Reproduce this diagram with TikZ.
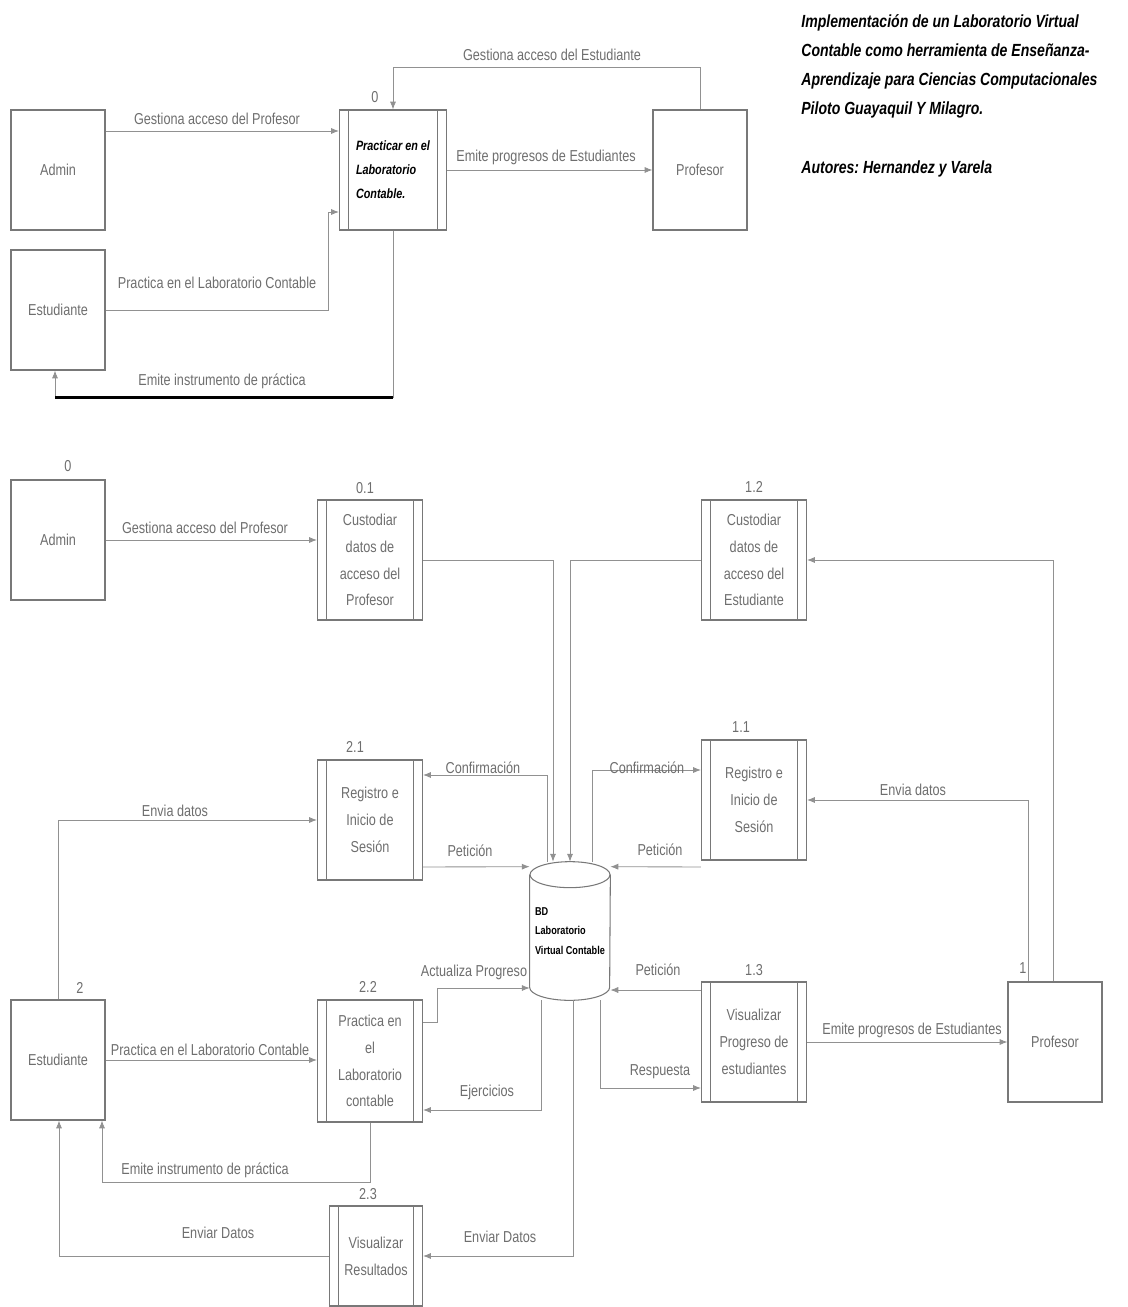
\documentclass[tikz,border=0pt]{standalone}
\usepackage{fontspec}
\setmainfont[FakeStretch=0.8]{Liberation Sans}
\usetikzlibrary{positioning,calc,arrows.meta}

\definecolor{boxgray}{RGB}{120,120,120}
\definecolor{linegray}{RGB}{145,145,145}
\definecolor{txtgray}{RGB}{110,110,110}

\begin{document}
\begin{tikzpicture}[
            x=0.02cm, y=-0.02cm,
            >={Latex[length=4.5pt,width=3.5pt]},
            every node/.style={font=\fontsize{9}{15.3}\selectfont,text=txtgray},
            entity/.style={draw=boxgray,line width=0.6pt,minimum width=1.88cm,minimum height=2.4cm,inner sep=0pt},
            process/.style={entity,minimum width=2.1cm,align=center,
                path picture={\draw[boxgray,line width=0.5pt]
                    ([xshift=0.18cm]path picture bounding box.north west) -- ([xshift=0.18cm]path picture bounding box.south west)
                    ([xshift=-0.18cm]path picture bounding box.north east) -- ([xshift=-0.18cm]path picture bounding box.south east);}},
            dbstore/.style={minimum width=1.6cm,minimum height=2.76cm,inner sep=0pt,align=left,
                font=\bfseries\fontsize{6.5}{11}\selectfont,text=black},
            flow/.style={draw=linegray,line width=0.5pt,->},
            lbl/.style={inner sep=1pt},
            num/.style={inner sep=0pt},
        ]
            \useasboundingbox (0,0) rectangle (1128,1307);

            % diagrama de contexto
            \node[entity] (admA) at (58,170) {Admin};
            \node[entity] (estA) at (58,310) {Estudiante};
            \node[process,minimum width=2.14cm,align=left,text=black,
                font=\bfseries\itshape\fontsize{7.7}{13.6}\selectfont] (practA) at (393,170) {Practicar en el\\Laboratorio\\Contable.};
            \node[entity] (profA) at (700,170) {Profesor};
            \node[num] (na0) at (375,97) {0};

            \draw[flow] ($(admA.east)+(0,-39)$) -- ($(practA.west)+(0,-39)$);
            \draw[flow] (estA.east) -- ++(223,0) |- ($(practA.west)+(0,42)$);
            \draw[flow] (practA.east) -- (profA.west);
            \draw[flow] (profA.north) -- ++(0,-42) -| (practA.north);
            \draw[flow] (practA.south) -- ++(0,167) -| ($(estA.south)+(-3,0)$);
            \draw[black,line width=1.3pt] ($(practA.south)+(0,167)$) -- ++(-338,0);

            \node[lbl] (la1) at (217,119) {Gestiona acceso del Profesor};
            \node[lbl] (la2) at (217,283) {Practica en el Laboratorio Contable};
            \node[lbl] (la3) at (546,157) {Emite progresos de Estudiantes};
            \node[lbl] (la4) at (552,55) {Gestiona acceso del Estudiante};
            \node[lbl] (la5) at (222,381) {Emite instrumento de práctica};

            \node[anchor=north west,align=left,inner sep=0pt,text=black,
                font=\bfseries\itshape\frenchspacing\fontsize{10}{16.6}\selectfont] (titulo) at (801,14)
                {Implementación de un Laboratorio Virtual\\Contable como herramienta de Enseñanza-\\Aprendizaje para Ciencias Computacionales\\Piloto Guayaquil Y Milagro.\\[16.6pt]Autores: Hernandez y Varela};

            % diagrama nivel 1
            \node[entity] (admB) at (58,540) {Admin};
            \node[process] (cust1) at (370,560) {Custodiar\\datos de\\acceso del\\Profesor};
            \node[process] (cust2) at (754,560) {Custodiar\\datos de\\acceso del\\Estudiante};
            \node[process] (reg2) at (370,820) {Registro e\\Inicio de\\Sesión};
            \node[process] (reg1) at (754,800) {Registro e\\Inicio de\\Sesión};
            \node[process,minimum height=2.44cm] (prac2) at (370,1061) {Practica en\\el\\Laboratorio\\contable};
            \node[process] (vis1) at (754,1042) {Visualizar\\Progreso de\\estudiantes};
            \node[process,minimum width=1.86cm,minimum height=2cm] (vis2) at (376,1256) {Visualizar\\Resultados};
            \node[entity] (estB) at (58,1060) {Estudiante};
            \node[entity] (profB) at (1055,1042) {Profesor};
            \node[dbstore] (db) at (570,931) {BD\\Laboratorio\\Virtual Contable};

            \draw[boxgray,line width=0.6pt] ($(db.north)+(0,13)$) ellipse [x radius=0.8cm,y radius=0.26cm];
            \draw[boxgray,line width=0.6pt] ($(db.north west)+(0,13)$) -- ($(db.south west)+(0,-13)$)
                arc[start angle=180,end angle=360,x radius=0.8cm,y radius=0.26cm] -- ($(db.north east)+(0,13)$);

            \node[num] (nb0) at (68,466) {0};
            \node[num] (n01) at (365,488) {0.1};
            \node[num] (n12) at (754,487) {1.2};
            \node[num] (n21) at (355,747) {2.1};
            \node[num] (n11) at (741,727) {1.1};
            \node[num] (n22) at (368,987) {2.2};
            \node[num] (n13) at (754,970) {1.3};
            \node[num] (n1) at (1023,968) {1};
            \node[num] (n2) at (80,988) {2};
            \node[num] (n23) at (368,1194) {2.3};

            \draw[flow] (admB.east) -- (admB.east -| cust1.west);
            \draw[flow] (cust1.east) -| ($(db.north)+(-17,0)$);
            \draw[flow] (cust2.west) -| (db.north);
            \draw[flow] ($(profB.north)+(-2,0)$) |- (cust2.east);
            \draw[flow] ($(profB.north)+(-27,0)$) |- (reg1.east);
            \draw[flow] ($(db.north)+(22,0)$) |- ($(reg1.west)+(0,-30)$);
            \draw[flow] ($(reg1.west)+(0,67)$) -- ($(db.north east)+(0,5)$);
            \draw[flow] ($(db.north)+(-23,0)$) |- ($(reg2.east)+(0,-45)$);
            \draw[flow] ($(reg2.east)+(0,47)$) -- ($(db.north west)+(0,5)$);
            \draw[flow] (estB.north) |- (reg2.west);
            \draw[flow] (estB.east) -- (estB.east -| prac2.west);
            \draw[flow] ($(prac2.east)+(0,-39)$) -- ++(14,0) |- ($(db.west)+(0,57)$);
            \draw[flow] ($(db.south)+(-29,0)$) |- ($(prac2.east)+(0,49)$);
            \draw[flow] ($(vis1.west)+(0,-52)$) -- ($(db.east)+(0,59)$);
            \draw[flow] ($(db.south)+(30,0)$) |- ($(vis1.west)+(0,46)$);
            \draw[flow] (vis1.east) -- (profB.west);
            \draw[flow] ($(db.south)+(3,0)$) |- (vis2.east);
            \draw[flow] (vis2.west) -| ($(estB.south)+(1,0)$);
            \draw[flow] (prac2.south) -- ++(0,60) -| ($(estB.south)+(44,0)$);

            \node[lbl] (lb1) at (205,528) {Gestiona acceso del Profesor};
            \node[lbl] (lb2) at (913,790) {Envia datos};
            \node[lbl] (lb3) at (647,768) {Confirmación};
            \node[lbl] (lb4) at (660,850) {Petición};
            \node[lbl] (lb5) at (483,768) {Confirmación};
            \node[lbl] (lb6) at (470,851) {Petición};
            \node[lbl] (lb7) at (175,811) {Envia datos};
            \node[lbl] (lb8) at (210,1050) {Practica en el Laboratorio Contable};
            \node[lbl] (lb9) at (474,972) {Actualiza Progreso};
            \node[lbl] (lb10) at (487,1092) {Ejercicios};
            \node[lbl] (lb11) at (658,970) {Petición};
            \node[lbl] (lb12) at (660,1072) {Respuesta};
            \node[lbl] (lb13) at (912,1030) {Emite progresos de Estudiantes};
            \node[lbl] (lb14) at (500,1237) {Enviar Datos};
            \node[lbl] (lb15) at (218,1233) {Enviar Datos};
            \node[lbl] (lb16) at (205,1170) {Emite instrumento de práctica};
        \end{tikzpicture}
\end{document}
